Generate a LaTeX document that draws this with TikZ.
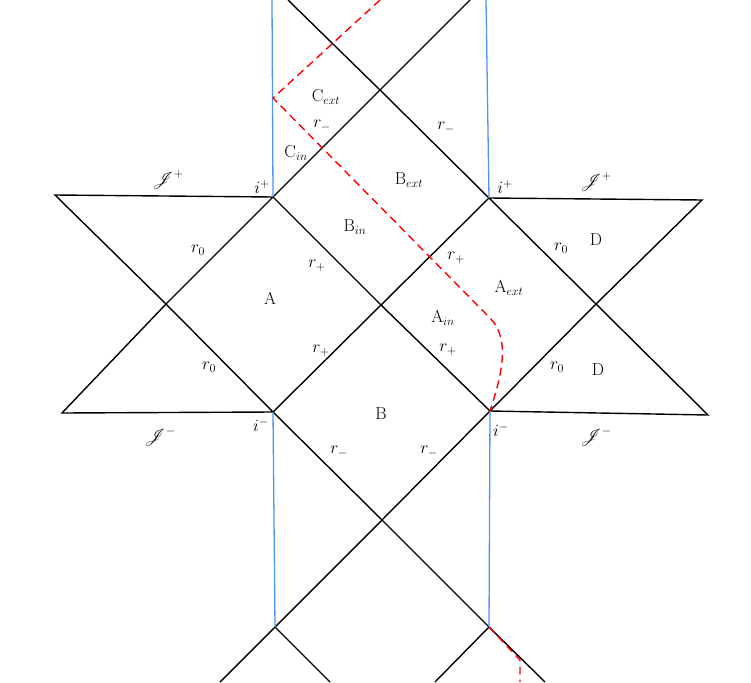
\documentclass[tikz,border=0pt]{standalone}
\usepackage{mathrsfs}
\begin{document}
\begin{tikzpicture}[x=1pt,y=-1pt,line width=1.4pt,
  bl/.style={draw=blue!60!cyan!70,line width=1.3pt},
  rd/.style={draw=red,dash pattern=on 8pt off 5pt,line width=1.4pt},
  lb/.style={font=\LARGE}]
\useasboundingbox (0,0) rectangle (751,682);
\coordinate (ipl) at (273,197); \coordinate (ipr) at (489,198);
\coordinate (iml) at (273,412); \coordinate (imr) at (490,411);
\coordinate (c) at (381,305); \coordinate (L) at (166,304); \coordinate (R) at (596,304);
\coordinate (T) at (380,90); \coordinate (Bt) at (382,520);
\coordinate (bl) at (275,627); \coordinate (br) at (489,627);
\coordinate (tl1) at (288,0); \coordinate (tl2) at (470,0);
\coordinate (tb1) at (272,0); \coordinate (tb2) at (486,0);
\coordinate (o1) at (55,195); \coordinate (o2) at (62,413);
\coordinate (o3) at (702,200); \coordinate (o4) at (708,415);
\coordinate (e1) at (220,682); \coordinate (e2) at (330,682);
\coordinate (e3) at (435,682); \coordinate (e4) at (545,682);
\draw (o1)--(ipl)--(L)--cycle; \draw (o2)--(iml)--(L)--cycle;
\draw (o3)--(ipr)--(R)--cycle; \draw (o4)--(imr)--(R)--cycle;
\draw (ipl)--(c)--(imr); \draw (iml)--(c)--(ipr);
\draw (ipl)--(T)--(ipr); \draw (imr)--(Bt)--(iml);
\draw (tl1)--(T)--(tl2);
\draw (e1)--(bl)--(Bt)--(br)--(e4); \draw (bl)--(e2); \draw (br)--(e3);
\draw[bl] (tb1)--(ipl); \draw[bl] (tb2)--(ipr);
\draw[bl] (iml)--(bl); \draw[bl] (imr)--(br);
\draw[rd] (380,0)--(273,98)--(490,318) .. controls (512,340) and (500,380) .. (imr);
\draw[rd] (br)--(520,660)--(520,682);
\node[lb] at (326,97) {C$_{ext}$};
\node[lb] at (322,126) {$r_-$};
\node[lb] at (296,153) {C$_{in}$};
\node[lb] at (446,128) {$r_-$};
\node[lb] at (409,180) {B$_{ext}$};
\node[lb] at (355,227) {B$_{in}$};
\node[lb] at (168,180) {$\mathscr{J}^+$};
\node[lb] at (596,182) {$\mathscr{J}^+$};
\node[lb] at (262,187) {$i^+$};
\node[lb] at (505,187) {$i^+$};
\node[lb] at (198,250) {$r_0$};
\node[lb] at (317,266) {$r_+$};
\node[lb] at (270,298) {A};
\node[lb] at (456,258) {$r_+$};
\node[lb] at (509,288) {A$_{ext}$};
\node[lb] at (443,318) {A$_{in}$};
\node[lb] at (561,248) {$r_0$};
\node[lb] at (596,240) {D};
\node[lb] at (321,351) {$r_+$};
\node[lb] at (448,350) {$r_+$};
\node[lb] at (209,367) {$r_0$};
\node[lb] at (557,367) {$r_0$};
\node[lb] at (598,370) {D};
\node[lb] at (381,414) {B};
\node[lb] at (261,425) {$i^-$};
\node[lb] at (501,430) {$i^-$};
\node[lb] at (160,437) {$\mathscr{J}^-$};
\node[lb] at (596,437) {$\mathscr{J}^-$};
\node[lb] at (339,452) {$r_-$};
\node[lb] at (429,452) {$r_-$};
\end{tikzpicture}
\end{document}
